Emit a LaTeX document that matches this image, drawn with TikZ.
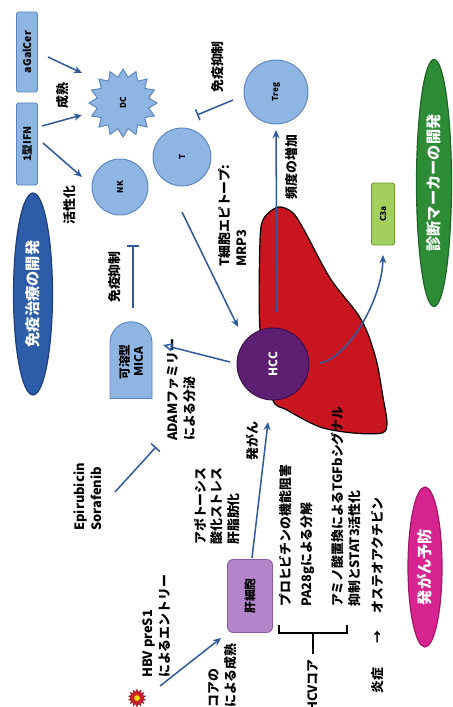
\documentclass[tikz,border=0pt]{standalone}
\usepackage{fontspec}
\setmainfont{Noto Sans CJK JP}
\usetikzlibrary{arrows.meta,shapes.geometric,shapes.misc}

\definecolor{cellblue}{HTML}{8FB5E3}
\definecolor{cellline}{HTML}{5A84BE}
\definecolor{linkblue}{HTML}{2F5A9E}
\definecolor{treatblue}{HTML}{2D5CA8}
\definecolor{treatline}{HTML}{1E3E7C}
\definecolor{markergreen}{HTML}{2E8B36}
\definecolor{markerline}{HTML}{1D6526}
\definecolor{c3agreen}{HTML}{A3D05C}
\definecolor{c3aline}{HTML}{6E9A34}
\definecolor{preventpink}{HTML}{D8248F}
\definecolor{preventline}{HTML}{A0186A}
\definecolor{heppurple}{HTML}{B585CC}
\definecolor{hepline}{HTML}{8A5CA6}
\definecolor{hccpurple}{HTML}{5C1F72}
\definecolor{hccline}{HTML}{3A0F4C}
\definecolor{liverred}{HTML}{C8151F}
\definecolor{virusred}{HTML}{D0202A}

\begin{document}
\begin{tikzpicture}[
    x=0.03cm, y=-0.03cm,
    % Styles
    lbl/.style={rotate=90, align=left, inner sep=0pt,
      font=\bfseries\fontsize{11}{14.5}\selectfont},
    cell/.style={circle, draw=cellline, fill=cellblue, line width=0.8pt,
      rotate=90, inner sep=0pt, font=\bfseries\scriptsize},
    factor/.style={rectangle, rounded corners=2pt, draw=cellline, fill=cellblue,
      line width=0.8pt, rotate=90, inner sep=0pt, font=\bfseries\small},
    goal/.style={ellipse, rotate=90, text=white, line width=1pt, inner sep=1pt,
      font=\bfseries\fontsize{13}{15}\selectfont},
    link/.style={draw=linkblue, line width=1.3pt, -{Stealth[length=7pt,width=6pt]}},
    inhibit/.style={draw=linkblue, line width=1.3pt, -{Bar[width=10pt]}},
  ]
  \useasboundingbox (0,0) rectangle (452,707);
  \clip (0,0) rectangle (452,707);

  % immune side
  \node[factor, minimum width=2.4cm, minimum height=0.63cm] (agal) at (27,52) {aGalCer};
  \node[factor, minimum width=2.46cm, minimum height=0.63cm] (ifn) at (27,144) {1型IFN};
  \node[goal, fill=treatblue, draw=treatline, minimum width=6.06cm, minimum height=1.17cm]
    (immuno) at (33,294) {免疫治療の開発};
  \node[star, star points=16, star point ratio=1.3, minimum size=2.04cm, draw=cellline,
    fill=cellblue, line width=0.8pt, rotate=90, inner sep=0pt, font=\bfseries\scriptsize]
    (dc) at (123,103) {DC};
  \node[cell, minimum size=1.68cm] (nk) at (120,187) {NK};
  \node[cell, minimum size=1.74cm] (t) at (182,157) {T};
  \node[cell, minimum size=1.92cm] (treg) at (276,92) {Treg};

  % liver and tumour
  \draw[fill=liverred, draw=black, line width=1pt] plot[smooth cycle, tension=0.5] coordinates {
    (260,330) (260,240) (264,218) (278,207) (292,212) (303,228) (330,278) (357,313)
    (368,334) (377,363) (383,397) (387,423) (382,433) (353,433) (320,427) (287,410) (272,398)};
  \node[cell, fill=hccpurple, draw=hccline, text=white, minimum size=2.16cm,
    font=\bfseries\normalsize] (hcc) at (273,364) {HCC};
  \coordinate (troot) at (277,312);
  \coordinate (c3root) at (320,363);

  \node[rounded rectangle, rounded rectangle west arc=none, rotate=90, draw=cellline,
    fill=cellblue, line width=0.8pt, minimum width=2.37cm, minimum height=1.26cm,
    inner sep=1pt, align=center, font=\bfseries\fontsize{10}{12}\selectfont]
    (mica) at (131,362) {可溶型\\MICA};
  \node[factor, fill=c3agreen, draw=c3aline, minimum width=1.86cm, minimum height=0.69cm,
    font=\bfseries\scriptsize] (c3a) at (383,214) {C3a};
  \node[goal, fill=markergreen, draw=markerline, minimum width=7.41cm, minimum height=1.05cm]
    (marker) at (434,183) {診断マーカーの開発};
  \node[factor, fill=heppurple, draw=hepline, rounded corners=5pt, minimum width=2.19cm,
    minimum height=1.35cm, font=\bfseries\normalsize] (hep) at (250,596) {肝細胞};
  \node[goal, fill=preventpink, draw=preventline, minimum width=4.8cm, minimum height=1.02cm]
    (prevent) at (425,567) {発がん予防};
  \node[star, star points=14, star point ratio=1.5, minimum size=0.52cm, inner sep=0pt,
    fill=virusred, draw=virusred!70!black] (virus) at (137,698) {};
  \fill[yellow!85!orange] (virus.center) circle (2.4pt);

  % labels
  \node[lbl] (mature) at (63,96) {成熟};
  \node[lbl] (activ) at (70,205) {活性化};
  \node[lbl] (suptop) at (218,67) {免疫抑制};
  \node[lbl, anchor=west] (epitope) at (233,267) {T細胞エピトープ:\\MRP3};
  \node[lbl] (freq) at (292,167) {頻度の増加};
  \node[lbl] (supmid) at (115,277) {免疫抑制};
  \node[lbl, anchor=west] (adam) at (182,441) {ADAMファミリー\\による分泌};
  \node[lbl] (drug) at (88,497) {Epirubicin\\Sorafenib};
  \node[lbl, anchor=west] (stress) at (217,545) {アポトーシス\\酸化ストレス\\肝脂肪化};
  \node[lbl] (onco) at (252,441) {発がん};
  \node[lbl, anchor=west] (prohib) at (285,607) {プロヒビチンの機能阻害};
  \node[lbl, anchor=west] (pa28) at (308,607) {PA28gによる分解};
  \node[lbl, anchor=west] (tgf) at (346,607) {アミノ酸置換によるTGFbシグナル\\抑制とSTAT3活性化};
  \node[lbl, anchor=west] (osteo) at (377,694) {炎症\hspace{0.75cm}→\hspace{0.5cm}オステオアクチビン};
  \node[lbl, anchor=west] (hcv) at (313,712) {HCVコア};
  \node[lbl, anchor=west] (core) at (223,708) {コアの\\による成熟};
  \node[lbl, anchor=west] (entry) at (157,678) {HBV preS1\\によるエントリー};

  % connectors
  \draw[link] ([shift={(10,5)}]agal.south) -- ([shift={(-41,-30)}]dc.center);
  \draw[link] ([shift={(4,-18)}]ifn.south) -- ([shift={(-41,12)}]dc.center);
  \draw[link] ([shift={(5,-1)}]ifn.south) -- ([shift={(-38,-10)}]nk.center);
  \draw[inhibit] ([shift={(-43,8)}]treg.center) -- ([shift={(15,-42)}]t.center);
  \draw[link] ([shift={(0,55)}]t.center) -- ([shift={(-35,-37)}]hcc.center);
  \draw[link] (troot) -- ([shift={(0,38)}]treg.center);
  \draw[link] (c3root) .. controls (348,358) and (382,300) .. ([shift={(0,41)}]c3a.center);
  \draw[link, -{Triangle[open, length=8pt, width=7pt]}]
    ([shift={(-43,-2)}]hcc.center) -- ([shift={(32,-17)}]mica.center);
  \draw[inhibit] ([shift={(2,-54)}]mica.center) -- ([shift={(13,58)}]nk.center);
  \draw[inhibit] ([shift={(27,-5)}]drug.center) -- ([shift={(-26,6)}]adam.west);
  \draw[link] ([shift={(2,-38)}]hep.center) -- ([shift={(-5,58)}]hcc.center);
  \draw[link] ([shift={(23,-12)}]virus.center) -- ([shift={(-6,5)}]hep.north west);

  % bracket of the HCV core effects
  \draw[line width=1.3pt] (279,625) -- (279,633) -- (347,633) -- (347,625);
  \coordinate (brk) at (313,633);
  \draw[line width=1.3pt] (brk) -- ([shift={(0,-5)}]hcv.east);
\end{tikzpicture}
\end{document}
